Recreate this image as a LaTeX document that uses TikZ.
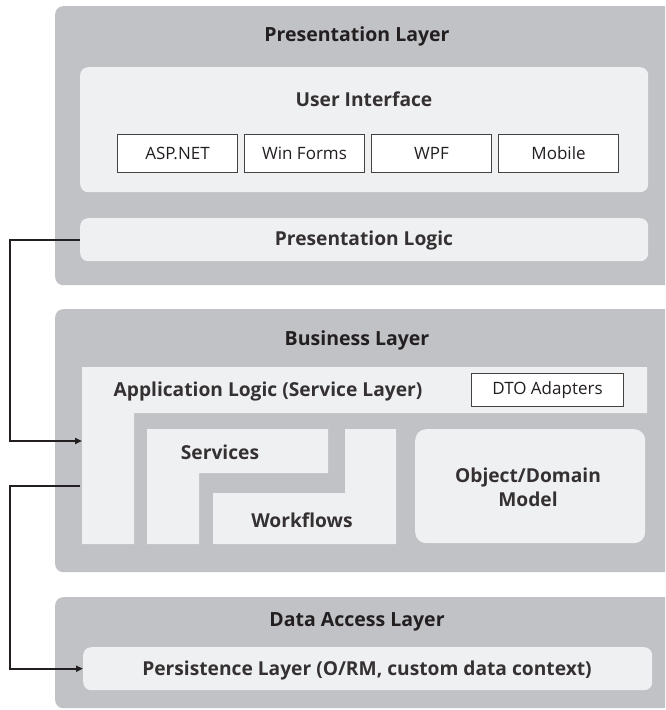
\documentclass[tikz,border=0pt]{standalone}
\usepackage{fontspec}
\setmainfont{Open Sans}
\usetikzlibrary{arrows.meta,calc}
\definecolor{layergray}{HTML}{C1C2C5}
\definecolor{panel}{HTML}{EFF0F2}
\definecolor{ink}{HTML}{231F20}
\tikzset{
  layerbox/.style={fill=layergray, draw=none, rounded corners=8pt, anchor=north west, inner sep=0pt},
  panelbox/.style={fill=panel, draw=none, rounded corners=8pt, anchor=north west, inner sep=0pt},
  techbox/.style={fill=white, draw=ink!85, line width=1pt, anchor=north west, inner sep=0pt, font=\fontsize{17}{20}\selectfont, text=ink},
  titletext/.style={font=\bfseries\fontsize{19.5}{23}\selectfont, text=ink, inner sep=0pt, yshift=-2pt},
  labeltext/.style={font=\bfseries\fontsize{19.2}{24}\selectfont, text=ink!92, inner sep=0pt, align=center, yshift=-2pt},
  conn/.style={draw=ink, line width=2pt},
  arrowconn/.style={conn, -{Triangle[length=7pt,width=6pt]}},
}
\begin{document}
\begin{tikzpicture}[x=1pt,y=-1pt]
\useasboundingbox (0,0) rectangle (665,710);
\clip (0,0) rectangle (665,710);
% Presentation layer
\node[layerbox, minimum width=630pt, minimum height=279pt] (pres) at (55,6) {};
\node[titletext] (prestitle) at (357,34) {Presentation Layer};
\node[panelbox, minimum width=568pt, minimum height=125pt] (ui) at (80,67) {};
\node[labeltext] (uititle) at (364,97) {User Interface};
\node[techbox, minimum width=120pt, minimum height=38pt] (asp) at (117,134) {ASP.NET};
\node[techbox, minimum width=120pt, minimum height=38pt] (winf) at (244,134) {Win Forms};
\node[techbox, minimum width=120pt, minimum height=38pt] (wpf) at (371,134) {WPF};
\node[techbox, minimum width=120pt, minimum height=38pt] (mob) at (498,134) {Mobile};
\node[panelbox, minimum width=568pt, minimum height=43pt] (plogic) at (80,218) {};
\node[labeltext] (plogictext) at (364,239) {Presentation Logic};
% Business layer
\node[layerbox, minimum width=630pt, minimum height=263pt] (bus) at (55,309) {};
\node[titletext] (bustitle) at (357,338) {Business Layer};
\fill[panel] (82,367) -- (647,367) -- (647,413) -- (134,413) -- (134,544) -- (82,544) -- cycle;
\node[labeltext] (applogic) at (268,390) {Application Logic (Service Layer)};
\node[techbox, minimum width=152pt, minimum height=33pt] (dto) at (471,373) {DTO Adapters};
\fill[panel] (147,429) -- (328,429) -- (328,473) -- (199,473) -- (199,544) -- (147,544) -- cycle;
\node[labeltext] (services) at (220,450) {Services};
\fill[panel] (345,429) -- (396,429) -- (396,544) -- (213,544) -- (213,493) -- (345,493) -- cycle;
\node[labeltext] (workflows) at (302,518) {Workflows};
\node[panelbox, rounded corners=11pt, minimum width=230pt, minimum height=114pt] (odm) at (415,429) {};
\node[labeltext] (odmtext) at (528,485) {Object/Domain\\Model};
% Data access layer
\node[layerbox, minimum width=630pt, minimum height=111pt] (dal) at (55,597) {};
\node[titletext] (daltitle) at (357,620) {Data Access Layer};
\node[panelbox, minimum width=569pt, minimum height=43pt] (persist) at (83,647) {};
\node[labeltext] (persisttext) at (367,669) {Persistence Layer (O/RM, custom data context)};
% connectors
\coordinate (rail) at (10,0);
\coordinate (alin) at (82,441);
\coordinate (alout) at (80,486);
\draw[arrowconn] (plogic.west) -- (plogic.west -| rail) |- (alin);
\draw[arrowconn] (alout) -- (alout -| rail) |- (persist.west);
\end{tikzpicture}
\end{document}
